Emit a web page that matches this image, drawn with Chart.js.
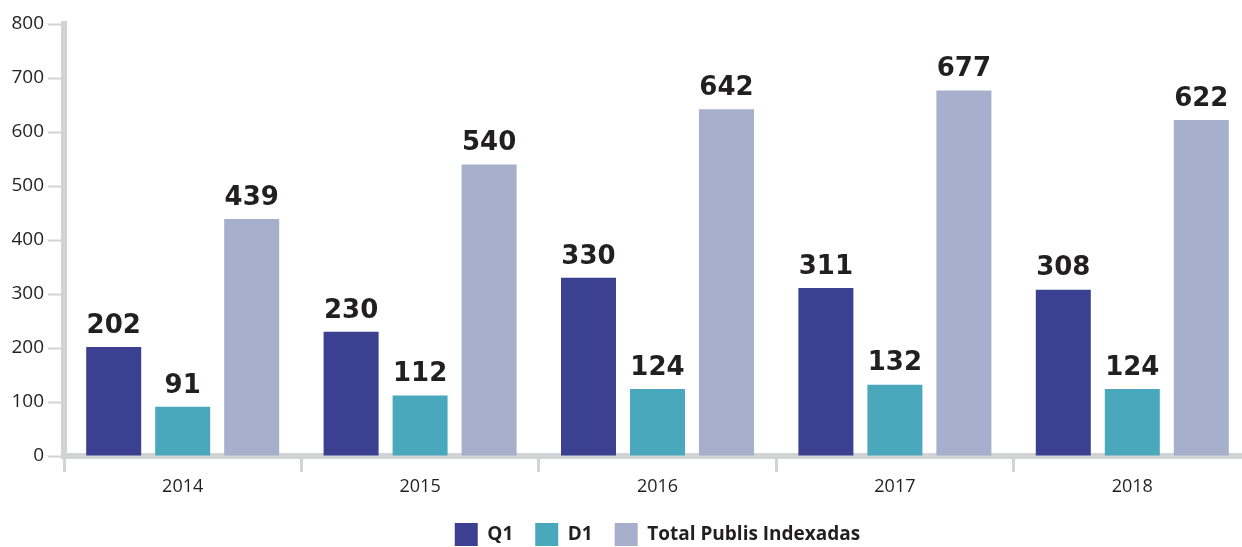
<!DOCTYPE html>
<html>
<head>
<meta charset="utf-8">
<script src="https://cdn.jsdelivr.net/npm/chart.js@4/dist/chart.umd.min.js"></script>
<style>
  html, body { margin: 0; padding: 0; background: #fff; overflow: hidden; }
  #wrap { width: 1251px; height: 556px; }
</style>
</head>
<body>
<div id="wrap"><canvas id="myChart"></canvas></div>
<script>
'use strict';

// dane wykresu
var years = ['2014', '2015', '2016', '2017', '2018'];
var q1Values = [202, 230, 330, 311, 308];
var d1Values = [91, 112, 124, 132, 124];
var totalValues = [439, 540, 642, 677, 622];
var yTicks = [0, 100, 200, 300, 400, 500, 600, 700, 800];

var axisGray = '#d2d3d5';

// etykiety nad słupkami
var barLabels = {
  id: 'barLabels',
  afterDatasetsDraw: function(chart) {
    var ctx = chart.ctx;
    ctx.save();
    ctx.font = 'bold 26px "DejaVu Sans", sans-serif';
    ctx.fillStyle = '#231f20';
    ctx.textAlign = 'center';
    ctx.textBaseline = 'bottom';
    chart.data.datasets.forEach(function(ds, i) {
      var meta = chart.getDatasetMeta(i);
      meta.data.forEach(function(bar, j) {
        ctx.fillText(String(ds.data[j]), bar.x, bar.y - 8);
      });
    });
    ctx.restore();
  }
};

var ctx = document.getElementById('myChart').getContext('2d');

var chart = new Chart(ctx, {
  type: 'bar',
  plugins: [barLabels],
  data: {
    labels: years,
    datasets: [{
      label: 'Q1',
      backgroundColor: '#3b4190',
      data: q1Values
    },
    {
      label: 'D1',
      backgroundColor: '#4aa8bc',
      data: d1Values
    },
    {
      label: 'Total Publis Indexadas',
      backgroundColor: '#a6afcb',
      data: totalValues
    }]
  },
  options: {
    responsive: true,
    maintainAspectRatio: false,
    animation: false,
    datasets: {
      bar: {
        categoryPercentage: 0.872,
        barPercentage: 0.797
      }
    },
    layout: {
      padding: { top: 24, left: 0, right: 0, bottom: 0 }
    },
    plugins: {
      tooltip: { enabled: false },
      legend: {
        position: 'bottom',
        fullSize: false,
        labels: {
          boxWidth: 23,
          boxHeight: 23,
          padding: 22,
          color: '#231f20',
          font: { family: '"Open Sans", sans-serif', size: 19, weight: 'bold' }
        }
      }
    },
    scales: {
      x: {
        border: { color: axisGray, width: 6 },
        grid: {
          display: true,
          drawOnChartArea: false,
          drawTicks: true,
          tickLength: 16,
          tickColor: axisGray,
          tickWidth: 3,
          offset: true
        },
        ticks: {
          color: '#231f20',
          padding: 4,
          font: { family: '"Open Sans", sans-serif', size: 18 }
        },
        afterFit: function(scale) { scale.height = 45; }
      },
      y: {
        min: 0,
        max: 800,
        afterBuildTicks: function(scale) {
          scale.ticks = yTicks.map(function(v) { return { value: v }; });
        },
        border: { color: axisGray, width: 6 },
        grid: {
          display: true,
          drawOnChartArea: false,
          drawTicks: true,
          tickLength: 16,
          tickColor: axisGray,
          tickWidth: 2
        },
        ticks: {
          color: '#231f20',
          padding: 4,
          font: { family: '"Open Sans", sans-serif', size: 19 }
        },
        afterFit: function(scale) { scale.width = 64; }
      }
    }
  }
});
</script>
</body>
</html>
